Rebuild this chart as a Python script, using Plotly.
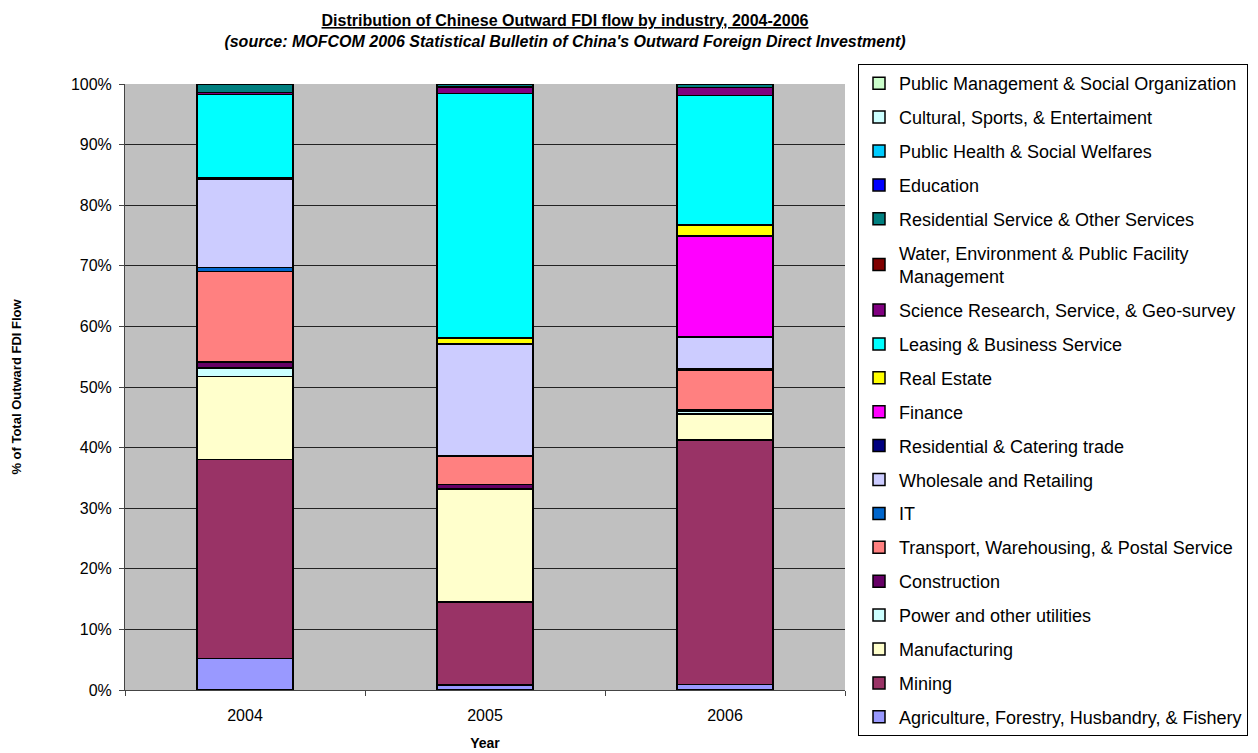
import plotly.graph_objects as go

years = ["2004", "2005", "2006"]

industries = [
    "Agriculture, Forestry, Husbandry, & Fishery",
    "Mining",
    "Manufacturing",
    "Power and other utilities",
    "Construction",
    "Transport, Warehousing, & Postal Service",
    "IT",
    "Wholesale and Retailing",
    "Residential & Catering trade",
    "Finance",
    "Real Estate",
    "Leasing & Business Service",
    "Science Research, Service, & Geo-survey",
    "Water, Environment & Public Facility<br>Management",
    "Residential Service & Other Services",
    "Education",
    "Public Health & Social Welfares",
    "Cultural, Sports, & Entertaiment",
    "Public Management & Social Organization",
]

colors = [
    "#9999FF", "#993366", "#FFFFCC", "#CCFFFF", "#660066", "#FF8080",
    "#0066CC", "#CCCCFF", "#000080", "#FF00FF", "#FFFF00", "#00FFFF",
    "#800080", "#800000", "#008080", "#0000FF", "#00CCFF", "#CCFFFF",
    "#CCFFCC",
]

# share of total outward FDI flow (%), per year 2004, 2005, 2006
agriculture = [5.2, 0.86, 0.87]
mining = [32.8, 13.7, 40.4]
manufacturing = [13.7, 18.6, 4.3]
power = [1.4, 0.06, 0.56]
construction = [1.0, 0.67, 0.16]
transport = [15.0, 4.7, 6.5]
it = [0.6, 0.12, 0.23]
wholesale = [14.6, 18.4, 5.3]
catering = [0.05, 0.06, 0.01]
finance = [0.0, 0.0, 16.7]
real_estate = [0.15, 0.95, 1.8]
leasing = [13.8, 40.3, 21.4]
science = [0.3, 1.05, 1.3]
water = [0.0, 0.01, 0.04]
residential_services = [1.4, 0.52, 0.53]
education = [0.0, 0.0, 0.0]
public_health = [0.0, 0.0, 0.0]
culture = [0.0, 0.0, 0.01]
public_mgmt = [0.0, 0.0, 0.0]

series = [agriculture, mining, manufacturing, power, construction, transport,
          it, wholesale, catering, finance, real_estate, leasing, science,
          water, residential_services, education, public_health, culture,
          public_mgmt]

fig = go.Figure()
for i, (name, vals, col) in enumerate(zip(industries, series, colors)):
    fig.add_trace(go.Bar(
        x=years, y=vals, name=name, legendgroup=name,
        legendrank=1000 - i,
        marker=dict(color=col, line=dict(color="#000000", width=1.5)),
        width=0.4,
    ))

# page has an 8px body margin, so the figure is slightly smaller than the window
W, H = 1250, 745
L, T, PW, PH = 117, 76, 720, 606
fig.update_layout(
    width=W, height=H,
    barmode="stack", barnorm="percent",
    paper_bgcolor="white", plot_bgcolor="#C0C0C0",
    margin=dict(l=L, r=W - L - PW, t=T, b=H - T - PH, autoexpand=False),
    font=dict(family="Liberation Sans, Arial", color="black", size=16),
    title=dict(
        text="<b><u>Distribution of Chinese Outward FDI flow by industry, 2004-2006</u></b><br>"
             "<span style='font-size:16px'><b><i>(source: MOFCOM 2006 Statistical Bulletin of China's Outward Foreign Direct Investment)</i></b></span>",
        x=(565 - 8 - L) / PW, xref="paper", xanchor="center",
        y=1 - 18 / H, yref="container", yanchor="top",
        font=dict(size=16),
    ),
    showlegend=True,
    legend=dict(
        traceorder="grouped", tracegroupgap=7.5,
        x=(858 - 8 - L) / PW, xanchor="left",
        y=(T + PH - (64 - 8)) / PH, yanchor="top",
        bgcolor="white", bordercolor="black", borderwidth=1,
        font=dict(size=18), itemwidth=30, maxheight=2000,
        itemclick=False,
    ),
)

fig.update_yaxes(
    range=[0, 100], dtick=10, ticksuffix="%",
    showgrid=True, gridcolor="#222222", gridwidth=1,
    showline=True, linecolor="#444444", linewidth=1,
    ticks="outside", ticklen=5, tickcolor="#444444",
    ticklabelstandoff=4,
    tickfont=dict(size=16),
    title=dict(text="<b>% of Total Outward FDI Flow</b>", font=dict(size=13), standoff=46),
    zeroline=False, automargin=False,
)
fig.update_xaxes(
    type="category",
    showline=True, linecolor="#444444", linewidth=1,
    ticks="outside", tickson="boundaries", ticklen=5, tickcolor="#444444",
    ticklabelstandoff=11,
    tickfont=dict(size=16),
    title=dict(text="<b>Year</b>", font=dict(size=14), standoff=14),
    automargin=False,
)

fig.write_html("out.html")
